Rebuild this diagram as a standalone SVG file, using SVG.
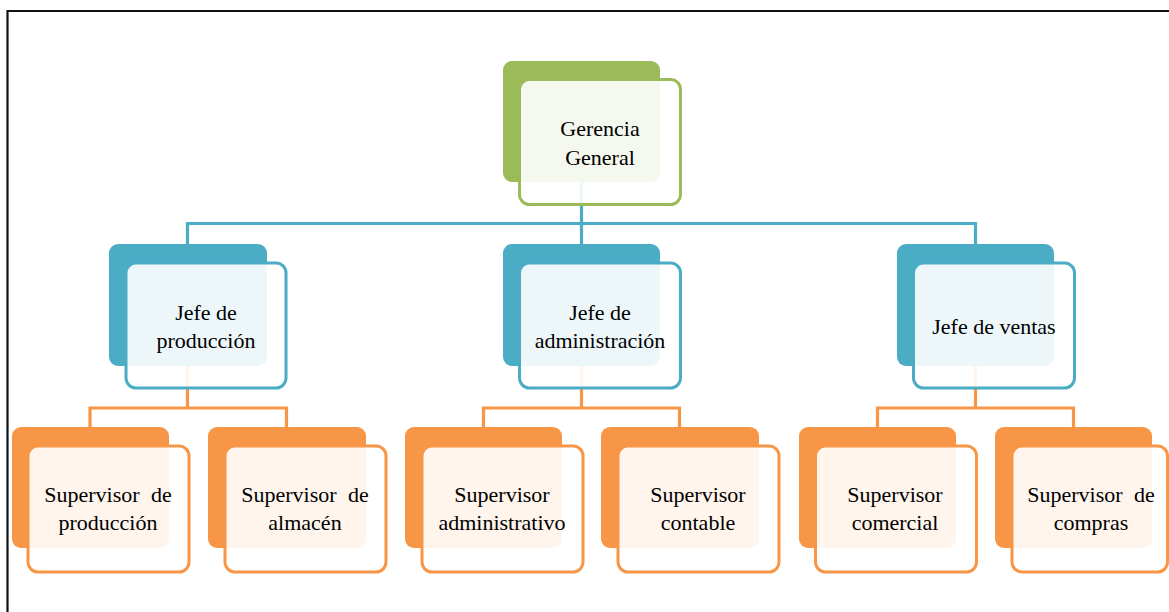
<svg xmlns="http://www.w3.org/2000/svg" width="1169" height="612" viewBox="0 0 1169 612">
<style>
.frame{fill:none;stroke:#111;stroke-width:2.2}
.cb{fill:none;stroke:#4bacc6;stroke-width:3.2}
.co{fill:none;stroke:#f79646;stroke-width:3.2}
.bg{fill:#9bbb59}
.bb{fill:#4bacc6}
.bo{fill:#f79646}
.front{fill:#ffffff;fill-opacity:0.9;stroke-width:3}
.fg{stroke:#9bbb59}
.fb{stroke:#4bacc6}
.fo{stroke:#f79646}
.t{font-family:'Liberation Serif','Tinos','Times New Roman','Times','Noto Serif','DejaVu Serif',serif;font-size:22px;fill:#000;text-anchor:middle}
.j{word-spacing:6px}
</style>
<rect width="1169" height="612" fill="#fff"/>
<path class="frame" d="M7.5 612 V11 H1169"/>
<g id="connectors">
<path class="cb" d="M581.5 182 V223.5 M187.5 223.5 H975.5 M187.5 222 V244 M581.5 223.5 V244 M975.5 222 V244"/>
<path class="co" d="M187.5 366 V408 M90 408 H286.5 M90 406.5 V427 M286.5 406.5 V427"/>
<path class="co" d="M581.5 366 V408 M483.5 408 H679.5 M483.5 406.5 V427 M679.5 406.5 V427"/>
<path class="co" d="M975.5 366 V408 M877.5 408 H1073.5 M877.5 406.5 V427 M1073.5 406.5 V427"/>
</g>
<g id="gerencia">
<rect class="bg" x="503" y="61" width="157" height="121" rx="9"/>
<rect class="front fg" x="519.5" y="79.5" width="161" height="125" rx="10"/>
<text class="t" x="600" y="136">Gerencia</text>
<text class="t" x="600" y="165">General</text>
</g>
<g id="jefe-produccion">
<rect class="bb" x="109" y="244" width="158" height="122" rx="9"/>
<rect class="front fb" x="126" y="263" width="160" height="125" rx="10"/>
<text class="t" x="206" y="320">Jefe de</text>
<text class="t" x="206" y="348">producción</text>
</g>
<g id="jefe-administracion">
<rect class="bb" x="503" y="244" width="157" height="122" rx="9"/>
<rect class="front fb" x="519.5" y="263" width="161" height="125" rx="10"/>
<text class="t" x="600" y="320">Jefe de</text>
<text class="t" x="600" y="348">administración</text>
</g>
<g id="jefe-ventas">
<rect class="bb" x="897" y="244" width="157" height="122" rx="9"/>
<rect class="front fb" x="913.5" y="263" width="161" height="125" rx="10"/>
<text class="t" x="994" y="334">Jefe de ventas</text>
</g>
<g id="sup-produccion">
<rect class="bo" x="12" y="427" width="157" height="121" rx="9"/>
<rect class="front fo" x="28" y="446" width="161" height="126" rx="10"/>
<text class="t j" x="108" y="502">Supervisor de</text>
<text class="t" x="108" y="530">producción</text>
</g>
<g id="sup-almacen">
<rect class="bo" x="208" y="427" width="158" height="121" rx="9"/>
<rect class="front fo" x="225" y="446" width="161" height="126" rx="10"/>
<text class="t j" x="305" y="502">Supervisor de</text>
<text class="t" x="305" y="530">almacén</text>
</g>
<g id="sup-administrativo">
<rect class="bo" x="405" y="427" width="157" height="121" rx="9"/>
<rect class="front fo" x="422" y="446" width="161" height="126" rx="10"/>
<text class="t" x="502" y="502">Supervisor</text>
<text class="t" x="502" y="530">administrativo</text>
</g>
<g id="sup-contable">
<rect class="bo" x="601" y="427" width="158" height="121" rx="9"/>
<rect class="front fo" x="618" y="446" width="161" height="126" rx="10"/>
<text class="t" x="698" y="502">Supervisor</text>
<text class="t" x="698" y="530">contable</text>
</g>
<g id="sup-comercial">
<rect class="bo" x="799" y="427" width="157" height="121" rx="9"/>
<rect class="front fo" x="815.5" y="446" width="161" height="126" rx="10"/>
<text class="t" x="895" y="502">Supervisor</text>
<text class="t" x="895" y="530">comercial</text>
</g>
<g id="sup-compras">
<rect class="bo" x="995" y="427" width="157" height="121" rx="9"/>
<rect class="front fo" x="1012" y="446" width="155.5" height="126" rx="10"/>
<text class="t j" x="1091" y="502">Supervisor de</text>
<text class="t" x="1091" y="530">compras</text>
</g>
</svg>
